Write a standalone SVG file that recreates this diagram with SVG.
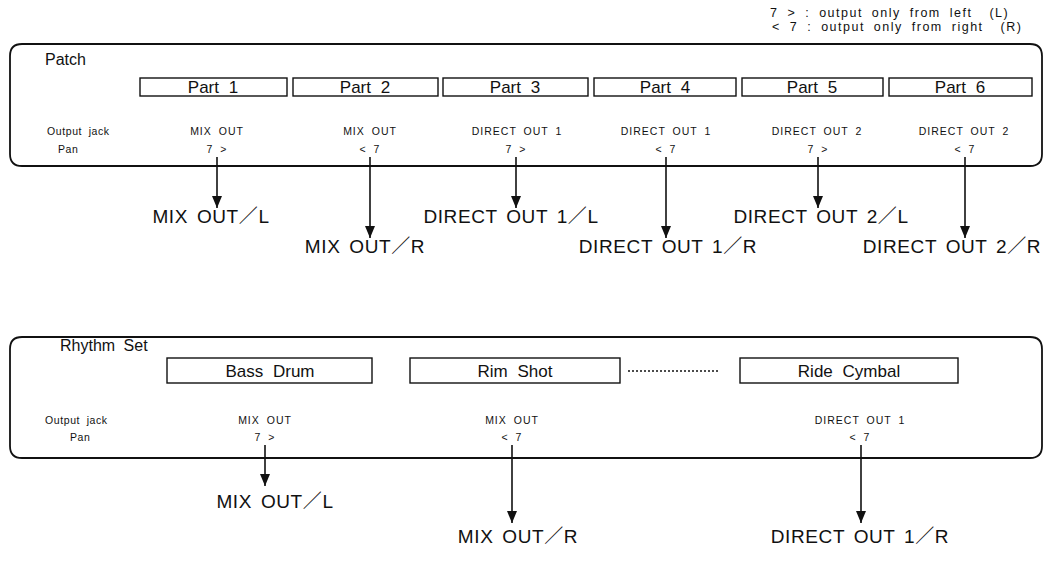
<svg xmlns="http://www.w3.org/2000/svg" width="1046" height="565" viewBox="0 0 1046 565">
<defs>
<style>
text{font-family:"Liberation Sans","Noto Sans CJK JP",sans-serif;fill:#111}
.frame{fill:none;stroke:#111;stroke-width:1.8}
.box{fill:#fff;stroke:#111;stroke-width:1.4}
.title{font-size:16px;word-spacing:4px}
.bl{font-size:17px;word-spacing:5px;text-anchor:middle}
.sm{font-size:10.5px;word-spacing:3px;letter-spacing:0.6px}
.smc{font-size:10.5px;word-spacing:3px;letter-spacing:1px;text-anchor:middle}
.lab{font-size:19px;word-spacing:3px;letter-spacing:0.6px;text-anchor:middle}
.lg{font-size:12.5px;word-spacing:4px;letter-spacing:1.5px}
.ln{stroke:#111;stroke-width:1.6;fill:none}
.dot{stroke:#111;stroke-width:1.5;stroke-dasharray:2 2;fill:none}
</style>
<marker id="ah" viewBox="0 0 12 10" refX="12" refY="5" markerWidth="12" markerHeight="10" markerUnits="userSpaceOnUse" orient="auto">
<path d="M0,0 L12,5 L0,10 Z" fill="#111"/>
</marker>
</defs>

<g id="legend">
<text class="lg" x="770" y="17">7 &gt; : output only from left <tspan dx="8">(L)</tspan></text>
<text class="lg" x="772" y="31">&lt; 7 : output only from right <tspan dx="8">(R)</tspan></text>
</g>

<g id="patch">
<path class="frame" d="M22,44 H1030 Q1042,44 1042,56 V154 Q1042,166 1030,166 H22 Q10,166 10,154 V56 Q10,44 22,44 Z"/>
<text class="title" x="45" y="65">Patch</text>
<text class="sm" x="47" y="135">Output jack</text>
<text class="sm" x="58" y="153">Pan</text>
</g>

<g id="part1"><rect class="box" x="140" y="78" width="147" height="18"/><text class="bl" x="213" y="93">Part 1</text>
<text class="smc" x="217" y="135">MIX OUT</text><text class="smc" x="217" y="153">7 &gt;</text></g>
<g id="part2"><rect class="box" x="293" y="78" width="145" height="18"/><text class="bl" x="365" y="93">Part 2</text>
<text class="smc" x="370" y="135">MIX OUT</text><text class="smc" x="370" y="153">&lt; 7</text></g>
<g id="part3"><rect class="box" x="443" y="78" width="145" height="18"/><text class="bl" x="515" y="93">Part 3</text>
<text class="smc" x="517" y="135">DIRECT OUT 1</text><text class="smc" x="516" y="153">7 &gt;</text></g>
<g id="part4"><rect class="box" x="594" y="78" width="142" height="18"/><text class="bl" x="665" y="93">Part 4</text>
<text class="smc" x="666" y="135">DIRECT OUT 1</text><text class="smc" x="666" y="153">&lt; 7</text></g>
<g id="part5"><rect class="box" x="742" y="78" width="141" height="18"/><text class="bl" x="812" y="93">Part 5</text>
<text class="smc" x="817" y="135">DIRECT OUT 2</text><text class="smc" x="818" y="153">7 &gt;</text></g>
<g id="part6"><rect class="box" x="889" y="78" width="143" height="18"/><text class="bl" x="960" y="93">Part 6</text>
<text class="smc" x="964" y="135">DIRECT OUT 2</text><text class="smc" x="965" y="153">&lt; 7</text></g>

<g id="rhythm">
<path class="frame" d="M22,337 H1030 Q1042,337 1042,349 V446 Q1042,458 1030,458 H22 Q10,458 10,446 V349 Q10,337 22,337 Z"/>
<text class="title" x="60" y="351">Rhythm Set</text>
<text class="sm" x="45" y="424">Output jack</text>
<text class="sm" x="70" y="441">Pan</text>
</g>
<g id="bassdrum"><rect class="box" x="167" y="358" width="205" height="25"/><text class="bl" x="270" y="377">Bass Drum</text>
<text class="smc" x="265" y="424">MIX OUT</text><text class="smc" x="265" y="441">7 &gt;</text></g>
<g id="rimshot"><rect class="box" x="410" y="358" width="210" height="25"/><text class="bl" x="515" y="377">Rim Shot</text>
<text class="smc" x="512" y="424">MIX OUT</text><text class="smc" x="512" y="441">&lt; 7</text></g>
<g id="ridecymbal"><rect class="box" x="740" y="358" width="218" height="25"/><text class="bl" x="849" y="377">Ride Cymbal</text>
<text class="smc" x="860" y="424">DIRECT OUT 1</text><text class="smc" x="860" y="441">&lt; 7</text></g>

<g id="outputs">
<text class="lab" x="211" y="223">MIX OUT／L</text>
<text class="lab" x="365" y="253">MIX OUT／R</text>
<text class="lab" x="511" y="223">DIRECT OUT 1／L</text>
<text class="lab" x="668" y="253">DIRECT OUT 1／R</text>
<text class="lab" x="821" y="223">DIRECT OUT 2／L</text>
<text class="lab" x="952" y="253">DIRECT OUT 2／R</text>
<text class="lab" x="275" y="508">MIX OUT／L</text>
<text class="lab" x="518" y="543">MIX OUT／R</text>
<text class="lab" x="860" y="543">DIRECT OUT 1／R</text>
</g>

<g id="connectors">
<line class="ln" x1="217" y1="157" x2="217" y2="208" marker-end="url(#ah)"/>
<line class="ln" x1="370" y1="157" x2="370" y2="238" marker-end="url(#ah)"/>
<line class="ln" x1="516" y1="157" x2="516" y2="208" marker-end="url(#ah)"/>
<line class="ln" x1="666" y1="157" x2="666" y2="238" marker-end="url(#ah)"/>
<line class="ln" x1="818" y1="157" x2="818" y2="208" marker-end="url(#ah)"/>
<line class="ln" x1="965" y1="157" x2="965" y2="238" marker-end="url(#ah)"/>
<line class="ln" x1="265" y1="445" x2="265" y2="486" marker-end="url(#ah)"/>
<line class="ln" x1="512" y1="445" x2="512" y2="523" marker-end="url(#ah)"/>
<line class="ln" x1="861" y1="445" x2="861" y2="523" marker-end="url(#ah)"/>
<line class="dot" x1="628" y1="371" x2="718" y2="371"/>
</g>
</svg>
